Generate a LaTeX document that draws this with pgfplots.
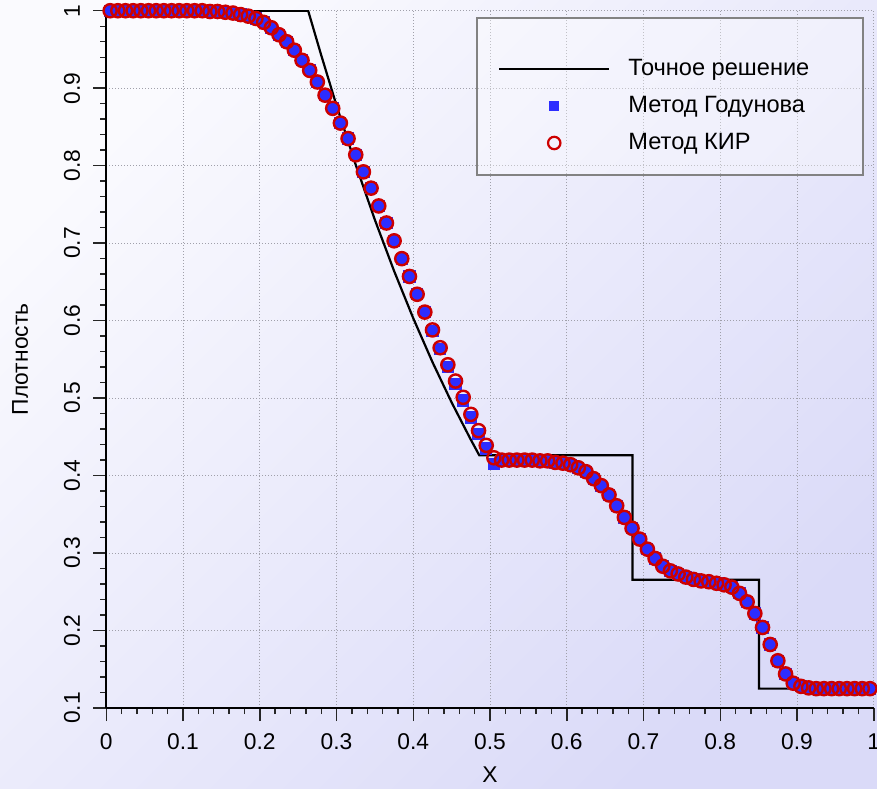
\documentclass[border=0pt]{standalone}
\usepackage{fontspec}
\setmainfont{Liberation Sans}
\usepackage{pgfplots}
\usepackage{pgfplotstable}
\pgfplotsset{compat=1.18}

\definecolor{bgtop}{RGB}{250,250,254}
\definecolor{bgbot}{RGB}{218,218,248}
\definecolor{godblue}{RGB}{45,45,255}
\definecolor{kirred}{RGB}{205,0,0}
\definecolor{gridgray}{RGB}{160,160,170}
\definecolor{legframe}{RGB}{130,130,130}

% Exact solution of the Sod problem at t = 0.2
\pgfplotstableread{
x       rho
0       1.0
0.2630  1.0
0.28    0.9427
0.30    0.8775
0.325   0.8010
0.35    0.7299
0.375   0.6640
0.40    0.6029
0.425   0.5464
0.45    0.4943
0.475   0.4462
0.4859  0.4263
0.6855  0.4263
0.6855  0.2656
0.8504  0.2656
0.8504  0.125
1.0     0.125
}\exact

% Cell-centred numerical densities, 100 cells
\pgfplotstableread{
x      god    kir
0.005  1.000  1.000
0.015  1.000  1.000
0.025  1.000  1.000
0.035  1.000  1.000
0.045  1.000  1.000
0.055  1.000  1.000
0.065  1.000  1.000
0.075  1.000  1.000
0.085  1.000  1.000
0.095  1.000  1.000
0.105  1.000  1.000
0.115  1.000  1.000
0.125  1.000  1.000
0.135  0.999  0.999
0.145  0.999  0.999
0.155  0.998  0.998
0.165  0.997  0.997
0.175  0.995  0.995
0.185  0.993  0.993
0.195  0.990  0.990
0.205  0.985  0.985
0.215  0.978  0.978
0.225  0.969  0.969
0.235  0.960  0.960
0.245  0.949  0.949
0.255  0.936  0.936
0.265  0.923  0.923
0.275  0.908  0.908
0.285  0.891  0.891
0.295  0.874  0.874
0.305  0.855  0.855
0.315  0.835  0.835
0.325  0.814  0.814
0.335  0.792  0.792
0.345  0.771  0.771
0.355  0.748  0.748
0.365  0.726  0.726
0.375  0.703  0.703
0.385  0.680  0.680
0.395  0.657  0.657
0.405  0.634  0.634
0.415  0.611  0.611
0.425  0.587  0.588
0.435  0.563  0.565
0.445  0.540  0.543
0.455  0.518  0.522
0.465  0.497  0.501
0.475  0.475  0.479
0.485  0.454  0.458
0.495  0.435  0.439
0.505  0.415  0.423
0.515  0.419  0.420
0.525  0.420  0.420
0.535  0.420  0.420
0.545  0.420  0.420
0.555  0.420  0.420
0.565  0.419  0.419
0.575  0.419  0.419
0.585  0.417  0.417
0.595  0.416  0.416
0.605  0.414  0.414
0.615  0.410  0.410
0.625  0.405  0.405
0.635  0.396  0.396
0.645  0.387  0.387
0.655  0.375  0.375
0.665  0.361  0.361
0.675  0.346  0.346
0.685  0.332  0.332
0.695  0.318  0.318
0.705  0.305  0.305
0.715  0.293  0.293
0.725  0.283  0.283
0.735  0.277  0.277
0.745  0.273  0.273
0.755  0.269  0.269
0.765  0.266  0.266
0.775  0.264  0.264
0.785  0.263  0.263
0.795  0.261  0.261
0.805  0.259  0.259
0.815  0.256  0.256
0.825  0.248  0.248
0.835  0.237  0.237
0.845  0.222  0.222
0.855  0.204  0.204
0.865  0.182  0.182
0.875  0.161  0.161
0.885  0.144  0.144
0.895  0.132  0.132
0.905  0.128  0.128
0.915  0.126  0.126
0.925  0.125  0.125
0.935  0.125  0.125
0.945  0.125  0.125
0.955  0.125  0.125
0.965  0.125  0.125
0.975  0.125  0.125
0.985  0.125  0.125
0.995  0.125  0.125
}\numer

% legend images
\pgfplotsset{
  exactleg/.style={legend image code/.code={%
    \draw[black, line width=1.2pt] (0pt,0pt) -- (55pt,0pt);}},
  godleg/.style={legend image code/.code={%
    \draw plot[only marks, mark=square*, mark size=2.2pt,
      mark options={draw=godblue, fill=godblue, line width=0pt}] coordinates {(27.5pt,0pt)};}},
  kirleg/.style={legend image code/.code={%
    \draw plot[only marks, mark=o, mark size=3.1pt,
      mark options={draw=kirred, line width=1.1pt}] coordinates {(27.5pt,0pt)};}},
}

\begin{document}
\fontsize{11.4}{13.7}\selectfont
\begin{tikzpicture}
\shade[shading=axis, top color=bgtop, bottom color=bgbot, shading angle=45]
  (0,0) rectangle (438.5pt,394pt);
\begin{axis}[
  at={(53.15pt,40pt)}, anchor=south west,
  scale only axis, width=383.75pt, height=348.65pt,
  xmin=0, xmax=1, ymin=0.1, ymax=1,
  axis x line*=bottom, axis y line*=left,
  axis line style={black, line width=0.9pt},
  xtick={0,0.1,0.2,0.3,0.4,0.5,0.6,0.7,0.8,0.9,1},
  ytick={0.1,0.2,0.3,0.4,0.5,0.6,0.7,0.8,0.9,1},
  minor tick num=4,
  tick align=outside,
  major tick length=6.5pt, minor tick length=3pt,
  every tick/.style={black!85, line width=0.7pt},
  grid=major,
  major grid style={gridgray, line width=0.5pt, dash pattern=on 0.5pt off 1pt},
  /pgf/number format/assume math mode=true,
  /pgf/number format/fixed,
  xticklabel shift=6pt,
  yticklabel shift=6.5pt,
  xticklabel style={inner sep=0pt, text height=8pt, text depth=0pt},
  yticklabel style={rotate=90, anchor=south, inner sep=0pt, text height=8pt, text depth=0pt},
  xlabel={X},
  ylabel={Плотность},
  xlabel style={at={(axis description cs:0.5,-0.0961)}, anchor=center},
  ylabel style={at={(axis description cs:-0.1121,0.5)}, anchor=center},
  legend cell align=left,
  legend style={at={(axis description cs:0.5104,0.9322)}, anchor=north west,
    draw=none, fill=none, inner sep=0pt, outer sep=0pt,
    row sep=7.5pt, column sep=9pt,
    font=\fontsize{11.8}{14}\selectfont,
    nodes={inner sep=0pt, text height=8.6pt, text depth=2.4pt}},
]
\addplot[black, line width=1.1pt, exactleg]
  table[x=x, y=rho] {\exact};
\addlegendentry{Точное решение}

\addplot[only marks, mark=square*, mark size=2.8pt,
  mark options={draw=godblue, fill=godblue, line width=0pt}, godleg]
  table[x=x, y=god] {\numer};
\addlegendentry{Метод Годунова}

\addplot[only marks, mark=o, mark size=3.3pt,
  mark options={draw=kirred, line width=1.2pt}, kirleg]
  table[x=x, y=kir] {\numer};
\addlegendentry{Метод КИР}

% legend frame
\draw[legframe, line width=0.9pt, fill=white, fill opacity=0.35]
  (rel axis cs:0.4826,0.7644) rectangle (rel axis cs:0.9859,0.9891);
\end{axis}
\pgfresetboundingbox
\useasboundingbox (0,0) rectangle (438.5pt,394pt);
\end{tikzpicture}
\end{document}
